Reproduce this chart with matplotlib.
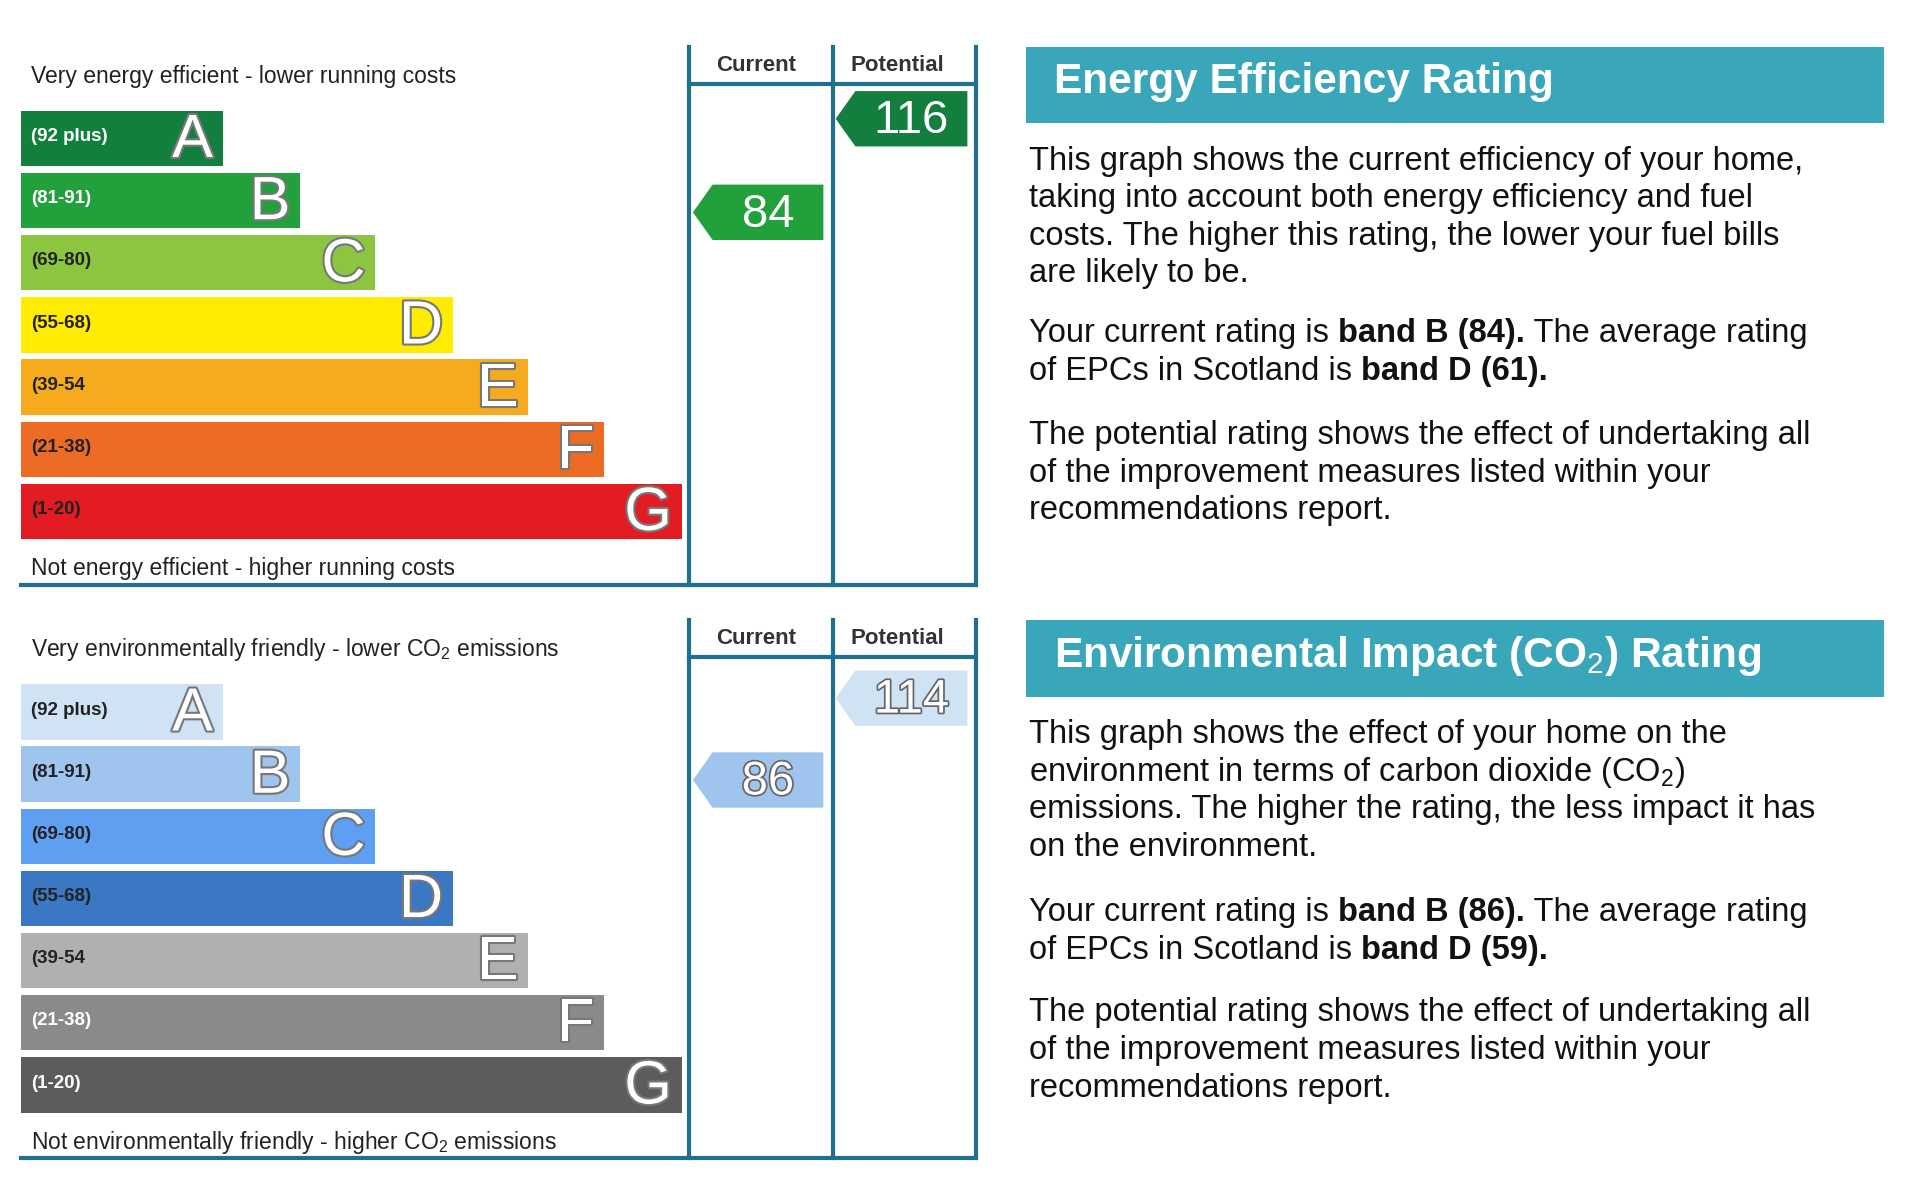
import matplotlib.pyplot as plt
import matplotlib.patheffects as pe

plt.rcParams['font.family'] = ['Liberation Sans', 'DejaVu Sans']
plt.rcParams['mathtext.fontset'] = 'custom'
plt.rcParams['mathtext.rm'] = 'Liberation Sans'
plt.rcParams['mathtext.bf'] = 'Liberation Sans:bold'

bands = ['A', 'B', 'C', 'D', 'E', 'F', 'G']
ranges = ['(92 plus)', '(81-91)', '(69-80)', '(55-68)', '(39-54', '(21-38)', '(1-20)']
bar_lengths = [164, 227, 288, 351, 412, 474, 537]
ee_colors = ['#137f3f', '#22a03c', '#8cc540', '#ffec00', '#f6ab1f', '#ec6b25', '#e31c24']
ei_colors = ['#cfe3f5', '#9fc5ee', '#5f9ff2', '#3b78c3', '#b0b0b0', '#8a8a8a', '#5c5c5c']
ee_label_white = [True, True, False, False, False, False, False]
ei_label_white = [False, False, False, False, False, True, True]

ee_current, ee_potential = 84, 116
ei_current, ei_potential = 86, 114
ee_cur_col, ee_pot_col = '#22a03c', '#137f3f'
ei_cur_col, ei_pot_col = '#9fc5ee', '#cfe3f5'

TEAL = '#3aa6ba'
LINE = '#1f6f8f'

fig = plt.figure(figsize=(19.2, 12), dpi=100)
ax = fig.add_axes([0, 0, 1, 1])
ax.set_xlim(0, 1560)
ax.set_ylim(975, 0)
ax.axis('off')

outline = [pe.withStroke(linewidth=3, foreground='#777777')]


def rich_line(x, y, parts, size):
    # parts: list of (text, bold)
    fig.canvas.draw()
    r = fig.canvas.get_renderer()
    inv = ax.transData.inverted()
    for txt, bold in parts:
        t = ax.text(x, y, txt, fontsize=size, fontweight='bold' if bold else 'normal',
                    va='center', ha='left', color='#111111')
        bb = t.get_window_extent(renderer=r)
        x0 = inv.transform((bb.x0, bb.y0))[0]
        x1 = inv.transform((bb.x1, bb.y0))[0]
        x += x1 - x0


def arrow(xl, xr, yc, colour, value, light):
    h = 22.5
    ax.fill([xl, xl + 16, xr, xr, xl + 16], [yc, yc - h, yc - h, yc + h, yc + h],
            color=colour, lw=0)
    ax.text((xl + 16 + xr) / 2, yc + 2, str(value), fontsize=34, ha='center', va='center',
            color='white', path_effects=[pe.withStroke(linewidth=2.5, foreground='#666666')] if light else None)


def y_of(v):
    return 172.5 - (v - 84) * 2.375


def panel(dy, colors, label_white, top_txt, bot_txt, cur, pot, cur_col, pot_col, light):
    ax.text(25, 62 + dy, top_txt, fontsize=16.5, va='center', color='#222222')
    ax.text(25, 462 + dy, bot_txt, fontsize=16.5, va='center', color='#222222')
    for i, b in enumerate(bands):
        y0 = 90 + i * 50.5 + dy
        ax.barh(y0 + 22.5, bar_lengths[i], height=45, left=17, color=colors[i], lw=0)
        tc = 'white' if label_white[i] else '#222222'
        ax.text(25, y0 + 21, ranges[i], fontsize=13.5, fontweight='bold', va='center', color=tc)
        ax.text(17 + bar_lengths[i] - 8, y0 + 25, b, fontsize=44, ha='right', va='center',
                color='white', path_effects=outline)
    for x in (560, 677, 793):
        ax.plot([x, x], [38 + dy, 475 + dy], color=LINE, lw=3)
    ax.plot([560, 793], [68 + dy, 68 + dy], color=LINE, lw=3)
    ax.plot([17, 793], [475 + dy, 475 + dy], color=LINE, lw=3)
    ax.text(614, 53 + dy, 'Current', fontsize=16, fontweight='bold', ha='center', va='center', color='#333333')
    ax.text(729, 53 + dy, 'Potential', fontsize=16, fontweight='bold', ha='center', va='center', color='#333333')
    arrow(563, 669, y_of(cur) + dy, cur_col, cur, light)
    arrow(679, 786, y_of(pot) + dy, pot_col, pot, light)


panel(0, ee_colors, ee_label_white, 'Very energy efficient - lower running costs',
      'Not energy efficient - higher running costs',
      ee_current, ee_potential, ee_cur_col, ee_pot_col, False)
panel(466, ei_colors, ei_label_white, 'Very environmentally friendly - lower CO$_2$ emissions',
      'Not environmentally friendly - higher CO$_2$ emissions',
      ei_current, ei_potential, ei_cur_col, ei_pot_col, True)

# right-hand explanation boxes
for dy, title in ((0, 'Energy Efficiency Rating'), (466, 'Environmental Impact (CO$_2$) Rating')):
    ax.fill([834, 1531, 1531, 834], [38 + dy, 38 + dy, 100 + dy, 100 + dy], color=TEAL, lw=0)
    ax.text(856, 67 + dy, title, fontsize=30.5, fontweight='bold', color='white', va='center')

fs = 23.5
ee_lines = ['This graph shows the current efficiency of your home,',
            'taking into account both energy efficiency and fuel',
            'costs. The higher this rating, the lower your fuel bills',
            'are likely to be.']
for i, s in enumerate(ee_lines):
    rich_line(836, 131 + i * 30.5, [(s, False)], fs)
rich_line(836, 271, [('Your current rating is ', False), ('band B (84).', True), (' The average rating', False)], fs)
rich_line(836, 302, [('of EPCs in Scotland is ', False), ('band D (61).', True)], fs)
pot_lines = ['The potential rating shows the effect of undertaking all',
             'of the improvement measures listed within your',
             'recommendations report.']
for i, s in enumerate(pot_lines):
    rich_line(836, 354 + i * 30.5, [(s, False)], fs)

ei_lines = ['This graph shows the effect of your home on the',
            'environment in terms of carbon dioxide (CO$_2$)',
            'emissions. The higher the rating, the less impact it has',
            'on the environment.']
for i, s in enumerate(ei_lines):
    rich_line(836, 597 + i * 30.5, [(s, False)], fs)
rich_line(836, 741, [('Your current rating is ', False), ('band B (86).', True), (' The average rating', False)], fs)
rich_line(836, 772, [('of EPCs in Scotland is ', False), ('band D (59).', True)], fs)
for i, s in enumerate(pot_lines):
    rich_line(836, 823 + i * 30.5, [(s, False)], fs)

fig.savefig('out.png', dpi=100)
